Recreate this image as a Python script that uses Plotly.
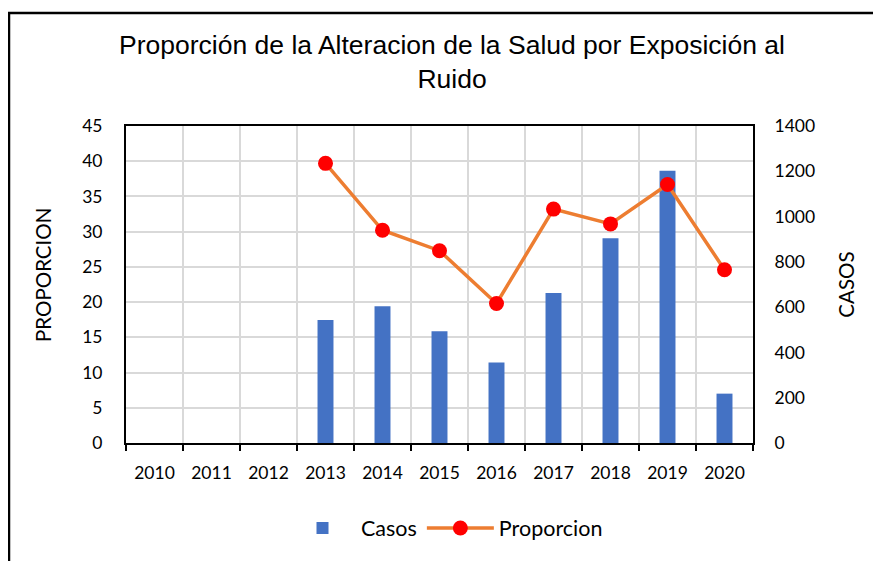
import plotly.graph_objects as go

years = ["2010", "2011", "2012", "2013", "2014", "2015", "2016", "2017", "2018", "2019", "2020"]
casos = [None, None, None, 543, 604, 494, 355, 663, 904, 1202, 218]
proporcion = [None, None, None, 39.7, 30.2, 27.3, 19.8, 33.2, 31.1, 36.7, 24.6]

TICK_FONT = dict(family="Lato", size=17.5, color="#000000")
TITLE_FONT = dict(family="Lato", size=20.5, color="#000000")
GRID = "#d9d9d9"

# page body has an 8px margin; figure sized/offset to compensate
W, H = 873, 553
L, T = 118, 118
PW, PH = 627, 317
OFF = 8


def px_x(x):
    return (x - OFF - L) / PW


def px_y(y):
    return (T + PH - (y - OFF)) / PH


fig = go.Figure()
fig.add_trace(go.Bar(
    x=years, y=casos, name="Casos", yaxis="y",
    marker=dict(color="#4472C4", line=dict(width=0)), width=0.28,
))
fig.add_trace(go.Scatter(
    x=years, y=proporcion, name="Proporcion", yaxis="y2",
    mode="lines+markers",
    line=dict(color="#ED7D31", width=3.5),
    marker=dict(color="#FF0000", size=15),
))

fig.update_layout(
    width=W, height=H,
    margin=dict(l=L, r=W - L - PW, t=T, b=H - T - PH, autoexpand=False),
    paper_bgcolor="white", plot_bgcolor="white",
    title=dict(
        text="Proporción de la Alteracion de la Salud por Exposición al<br>Ruido",
        font=dict(family="Liberation Sans", size=26.5, color="#000000"),
        x=(452 - OFF) / W, xanchor="center", xref="container",
        y=1 - 45.5 / H, yanchor="middle", yref="container",
    ),
    xaxis=dict(
        type="category", range=[-0.5, 10.5],
        tickson="boundaries", ticks="outside", ticklen=6, tickwidth=1.5, tickcolor="#000000",
        showgrid=True, gridcolor=GRID, gridwidth=1.5,
        showline=True, mirror=True, linecolor="#000000", linewidth=2,
        tickfont=TICK_FONT, ticklabelstandoff=13,
    ),
    yaxis=dict(
        side="right", range=[0, 1400], dtick=200, tick0=0,
        showgrid=False, zeroline=False,
        showline=True, linecolor="#000000", linewidth=2,
        tickfont=TICK_FONT, ticklabelstandoff=16,
        title=dict(text="CASOS", font=TITLE_FONT, standoff=26),
    ),
    yaxis2=dict(
        overlaying="y", side="left", range=[0, 45], dtick=5, tick0=0,
        showgrid=True, gridcolor=GRID, gridwidth=1.5, zeroline=False,
        showline=True, linecolor="#000000", linewidth=2,
        tickfont=TICK_FONT, ticklabelstandoff=18,
    ),
    annotations=[dict(
        text="PROPORCION", textangle=-90, showarrow=False,
        xref="paper", yref="paper", x=px_x(43), y=px_y(275),
        xanchor="center", yanchor="middle", font=TITLE_FONT,
    )],
    legend=dict(
        orientation="h", x=px_x(446), xanchor="center",
        y=px_y(528), yanchor="middle",
        font=dict(family="Lato", size=21.5, color="#000000"),
        bgcolor="rgba(0,0,0,0)", itemwidth=67,
    ),
    showlegend=True,
    shapes=[dict(
        type="rect", xref="paper", yref="paper",
        x0=px_x(9), x1=1.4, y0=-0.6, y1=px_y(13),
        line=dict(color="#000000", width=2.5), fillcolor="rgba(0,0,0,0)", layer="below",
    )],
)

fig.write_html("out.html")
